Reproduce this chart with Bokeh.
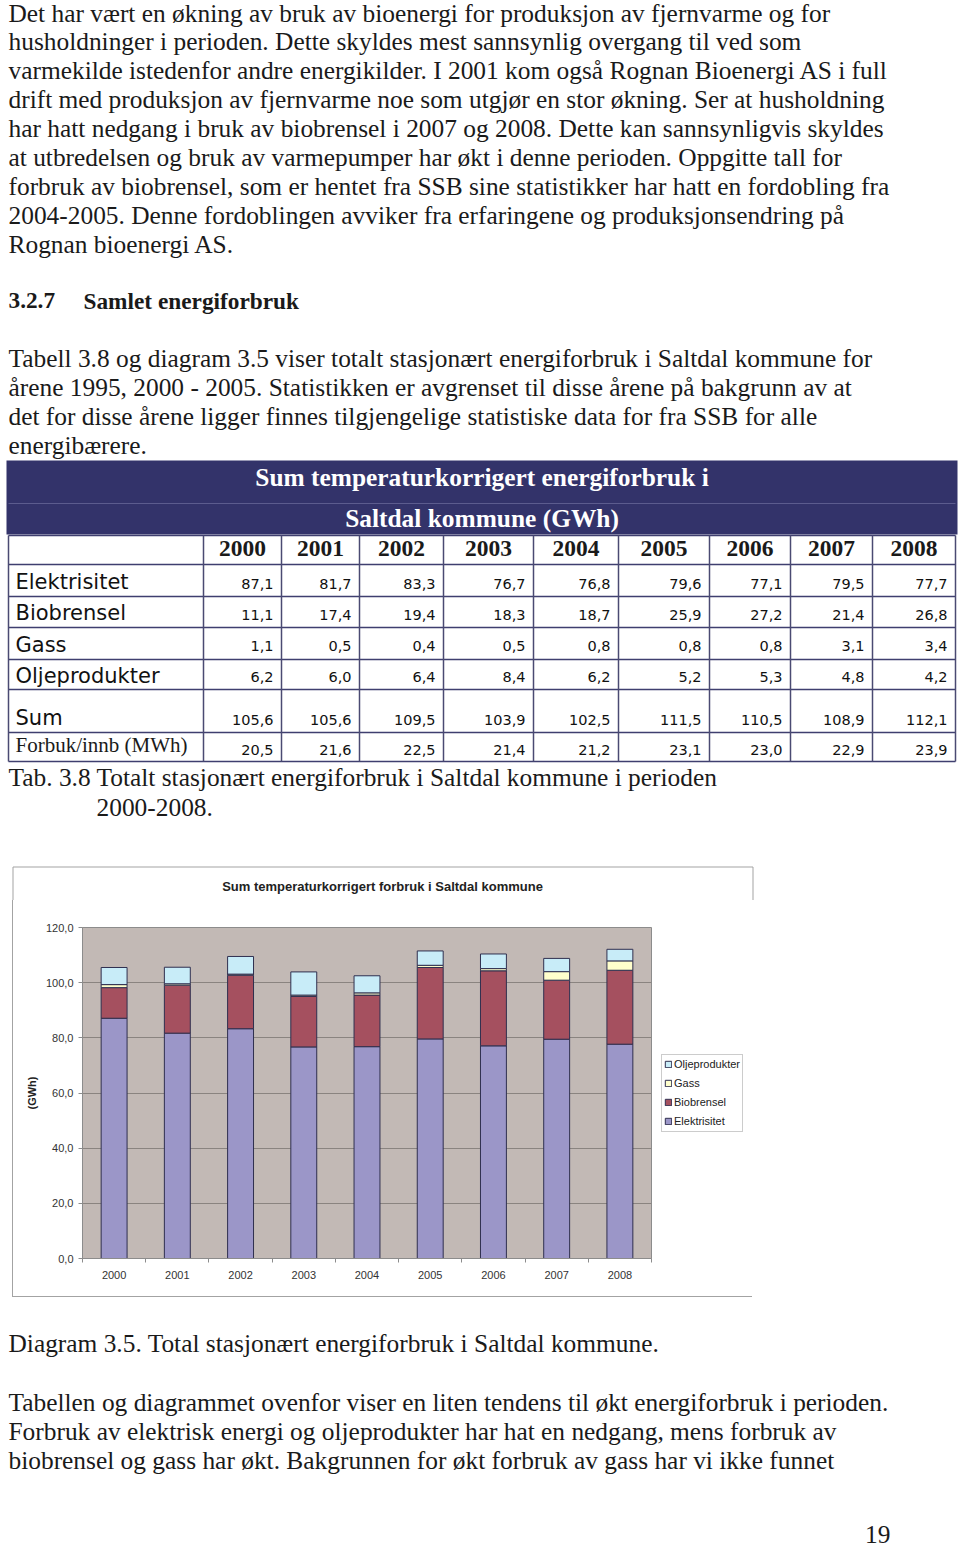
from bokeh.plotting import figure
from bokeh.models import Range1d, ColumnDataSource, FixedTicker, Legend, LegendItem, Div, Spacer
from bokeh.layouts import column, row
from bokeh.core.properties import value
from bokeh.embed import file_html
from bokeh.resources import INLINE

# ---------------- data ----------------
years = [2000, 2001, 2002, 2003, 2004, 2005, 2006, 2007, 2008]
elektrisitet = [87.1, 81.7, 83.3, 76.7, 76.8, 79.6, 77.1, 79.5, 77.7]
biobrensel = [11.1, 17.4, 19.4, 18.3, 18.7, 25.9, 27.2, 21.4, 26.8]
gass = [1.1, 0.5, 0.4, 0.5, 0.8, 0.8, 0.8, 3.1, 3.4]
oljeprodukter = [6.2, 6.0, 6.4, 8.4, 6.2, 5.2, 5.3, 4.8, 4.2]
sum_gwh = [105.6, 105.6, 109.5, 103.9, 102.5, 111.5, 110.5, 108.9, 112.1]
forbruk_innb = [20.5, 21.6, 22.5, 21.4, 21.2, 23.1, 23.0, 22.9, 23.9]
series_names = ["Elektrisitet", "Biobrensel", "Gass", "Oljeprodukter"]
y_ticks = [0, 20, 40, 60, 80, 100, 120]
y_tick_labels = ["0,0", "20,0", "40,0", "60,0", "80,0", "100,0", "120,0"]
chart_title = "Sum temperaturkorrigert forbruk i Saltdal kommune"

para1 = [
    "Det har vært en økning av bruk av bioenergi for produksjon av fjernvarme og for",
    "husholdninger i perioden. Dette skyldes mest sannsynlig overgang til ved som",
    "varmekilde istedenfor andre energikilder. I 2001 kom også Rognan Bioenergi AS i full",
    "drift med produksjon av fjernvarme noe som utgjør en stor økning. Ser at husholdning",
    "har hatt nedgang i bruk av biobrensel i 2007 og 2008. Dette kan sannsynligvis skyldes",
    "at utbredelsen og bruk av varmepumper har økt i denne perioden. Oppgitte tall for",
    "forbruk av biobrensel, som er hentet fra SSB sine statistikker har hatt en fordobling fra",
    "2004-2005. Denne fordoblingen avviker fra erfaringene og produksjonsendring på",
    "Rognan bioenergi AS.",
]
para2 = [
    "Tabell 3.8 og diagram 3.5 viser totalt stasjonært energiforbruk i Saltdal kommune for",
    "årene  1995, 2000 - 2005. Statistikken er avgrenset til disse årene på bakgrunn av at",
    "det for disse årene ligger finnes tilgjengelige statistiske data for fra SSB for alle",
    "energibærere.",
]
para3 = [
    "Tabellen og diagrammet ovenfor viser en liten tendens til økt energiforbruk i perioden.",
    "Forbruk av elektrisk energi og oljeprodukter har hat en nedgang, mens forbruk av",
    "biobrensel og gass har økt. Bakgrunnen for økt forbruk av gass har vi ikke funnet",
]

SERIF = "Liberation Serif"
SANS = "Liberation Sans"
TBL = "DejaVu Sans"
INK = "#1a1a1a"
NAVY = "#33336a"
BODY = "25.4px"
BOX = "#a3a3a3"

W = 960


def fmt(v):
    return f"{v:.1f}".replace(".", ",")


def txt(p, xs, ys, texts, font=SERIF, size=BODY, style="normal", color=INK, align="left"):
    p.text(x=xs, y=ys, text=texts, text_font=value(font), text_font_size=value(size),
           text_font_style=style, text_color=color, text_align=align, text_baseline="middle")


def page_fig(height, y0, y1):
    p = figure(width=W, height=height, x_range=Range1d(0, W), y_range=Range1d(y1, y0),
               output_backend="svg", toolbar_location=None, x_axis_type=None, y_axis_type=None,
               min_border=0, outline_line_color=None, frame_align=False)
    p.grid.visible = False
    return p


# ---------------- top page part: text + table + chart box head ----------------
top = page_fig(900, 0, 900)

txt(top, [8] * len(para1), [12 + 28.9 * i for i in range(len(para1))], para1)
txt(top, [8], [300], ["3.2.7"], style="bold", size="23.3px")
txt(top, [83], [300], ["Samlet energiforbruk"], style="bold", size="23.3px")
txt(top, [8] * len(para2), [357.5 + 29 * i for i in range(len(para2))], para2)

# table geometry
col_edges = [8, 203, 281, 359, 443, 533, 618, 709, 790, 872, 955]
row_edges = [535, 564, 596, 627, 659, 689, 732, 761]
tbl_left, tbl_right = col_edges[0], col_edges[-1]

top.quad(left=[6], right=[957], top=[460], bottom=[534], fill_color=NAVY, line_color=None)
top.segment(x0=[8], y0=[503], x1=[955], y1=[503], line_color="#5c5c8e", line_width=1)
txt(top, [481.5], [476.5], ["Sum temperaturkorrigert energiforbruk i"], style="bold", color="white", align="center")
txt(top, [481.5], [517.5], ["Saltdal kommune (GWh)"], style="bold", color="white", align="center")

# grid lines
top.segment(x0=[tbl_left] * len(row_edges), y0=row_edges, x1=[tbl_right] * len(row_edges), y1=row_edges,
            line_color="#3f3f6f", line_width=1.5)
top.segment(x0=col_edges, y0=[row_edges[0]] * len(col_edges), x1=col_edges, y1=[row_edges[-1]] * len(col_edges),
            line_color="#4a4a72", line_width=1.5)

col_centers = [(col_edges[i] + col_edges[i + 1]) / 2 for i in range(1, len(col_edges) - 1)]
col_rights = [col_edges[i + 1] - 8 for i in range(1, len(col_edges) - 1)]
txt(top, col_centers, [548] * len(years), [str(y) for y in years], style="bold", size="23.5px", align="center")

table_rows = [elektrisitet, biobrensel, gass, oljeprodukter, sum_gwh, forbruk_innb]
row_labels = series_names + ["Sum"]
label_centers = [581, 612, 644, 675, 717]
value_centers = [583, 614, 645, 676, 719, 749]
for r, lab in enumerate(row_labels):
    txt(top, [15], [label_centers[r]], [lab], font=TBL, size="21px", color="#111111")
txt(top, [15], [744.5], ["Forbuk/innb (MWh)"], size="21px")

for r, vals in enumerate(table_rows):
    txt(top, col_rights, [value_centers[r]] * len(vals), [fmt(v) for v in vals], font=TBL, size="14.5px",
        color="#111111", align="right")

txt(top, [8], [776.5], ["Tab. 3.8 Totalt stasjonært energiforbruk i Saltdal kommune i perioden"])
txt(top, [96], [806.5], ["2000-2008."])

# upper part of the chart's frame box, with the chart title
top.segment(x0=[12.5, 12.5, 752.5], y0=[866.5, 866.5, 866.5], x1=[752.5, 12.5, 752.5], y1=[866.5, 900, 900],
            line_color=BOX, line_width=1)
txt(top, [382], [886], [chart_title], font=SANS, size="13px", style="bold", color="#222222", align="center")

# ---------------- chart ----------------
colors = ["#9b96c8", "#a5505f", "#ffffcc", "#c8ecf8"]
keys = ["elektrisitet", "biobrensel", "gass", "oljeprodukter"]
src = ColumnDataSource(dict(year=years, elektrisitet=elektrisitet, biobrensel=biobrensel,
                            gass=gass, oljeprodukter=oljeprodukter))

c = figure(width=739, height=396, frame_width=569, frame_height=331,
           x_range=Range1d(years[0] - 0.5, years[-1] + 0.5),
           y_range=Range1d(y_ticks[0], y_ticks[-1]), output_backend="svg", toolbar_location=None,
           min_border_left=69, min_border_right=101, min_border_top=27, min_border_bottom=38,
           background_fill_color="#c2b9b5", border_fill_color="white", outline_line_color="#8c8c8c",
           frame_align=False)

rs = c.vbar_stack(keys, x="year", width=0.41, source=src, fill_color=colors,
                  line_color="#2f2f4f", line_width=1)

c.xgrid.visible = False
c.ygrid.grid_line_color = "#8a8480"
c.ygrid.ticker = FixedTicker(ticks=y_ticks)

xa = c.xaxis[0]
xa.ticker = FixedTicker(ticks=years, minor_ticks=[y - 0.5 for y in years] + [years[-1] + 0.5])
xa.major_label_overrides = {y: str(y) for y in years}
xa.major_tick_out = 0
xa.major_tick_in = 0
xa.minor_tick_out = 4
xa.minor_tick_in = 0
xa.minor_tick_line_color = "#8c8c8c"
xa.axis_line_color = "#8c8c8c"
xa.major_label_standoff = 8
xa.major_label_text_font = SANS
xa.major_label_text_font_size = "11px"
xa.major_label_text_color = "#333333"

ya = c.yaxis[0]
ya.ticker = FixedTicker(ticks=y_ticks)
ya.major_label_overrides = dict(zip(y_ticks, y_tick_labels))
ya.major_tick_out = 4
ya.major_tick_in = 0
ya.minor_tick_line_color = None
ya.major_tick_line_color = "#8c8c8c"
ya.axis_line_color = "#8c8c8c"
ya.major_label_standoff = 5
ya.major_label_text_font = SANS
ya.major_label_text_font_size = "11px"
ya.major_label_text_color = "#333333"
ya.axis_label = "(GWh)"
ya.axis_label_text_font = SANS
ya.axis_label_text_font_size = "11px"
ya.axis_label_text_font_style = "bold"
ya.axis_label_text_color = "#222222"
ya.axis_label_standoff = 5

# legend kept narrow enough that the right border panel stays at 101 px
items = [LegendItem(label=series_names[i], renderers=[rs[i]]) for i in reversed(range(len(rs)))]
legend = Legend(items=items, location="center_left", label_text_font=SANS, label_text_font_size="11px",
                label_text_color="#222222", glyph_width=8, glyph_height=8, label_height=15,
                spacing=4, padding=2, margin=10, label_standoff=2,
                border_line_color="#9a9a9a", background_fill_color="white")
c.add_layout(legend, "right")

# remaining sides of the chart's frame box (left line, bottom line; right side via a CSS border)
vline_l = Div(text="", width=1, height=396, margin=0, styles={"background-color": BOX})
hline_bot = Div(text="", width=740, height=1, margin=0, styles={"background-color": BOX})
inner = column(row(vline_l, c, spacing=0), hline_bot, spacing=0,
               styles={"border-right": f"1px solid {BOX}", "box-sizing": "content-box"})
chart_block = row(Spacer(width=12, height=397), inner, spacing=0)

# ---------------- bottom page part ----------------
bot = page_fig(251, 1297, 1548)
txt(bot, [8], [1342.5], ["Diagram 3.5. Total stasjonært energiforbruk i Saltdal kommune."])
txt(bot, [8] * len(para3), [1401.5 + 29 * i for i in range(len(para3))], para3)
txt(bot, [890], [1534], ["19"], align="right")

layout = column(top, chart_block, bot, spacing=0)
open("out.html", "w").write(file_html(layout, INLINE))
